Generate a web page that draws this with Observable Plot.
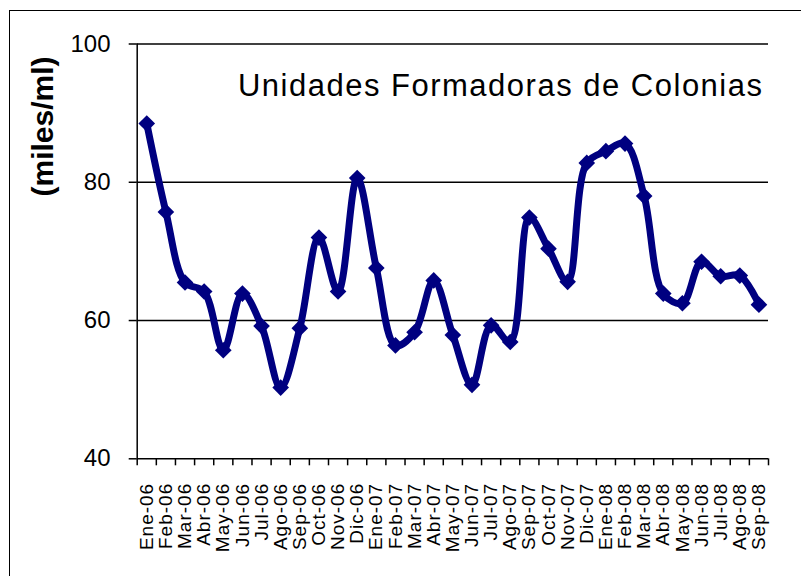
<!DOCTYPE html>
<html>
<head>
<meta charset="utf-8">
<script src="https://cdn.jsdelivr.net/npm/d3@7"></script>
<script src="https://cdn.jsdelivr.net/npm/@observablehq/plot@0.6"></script>
<style>
  html, body { margin: 0; padding: 0; background: #fff; overflow: hidden; width: 801px; height: 576px; }
  #border { position: absolute; left: 9px; top: 10px; width: 820px; height: 620px; border: 1.5px solid #000; box-sizing: border-box; }
  #chart { position: absolute; left: 0; top: 0; }
  svg g[aria-label="x-axis tick label"] text { letter-spacing: 1px; }
</style>
</head>
<body>
<div id="border"></div>
<div id="chart"></div>
<script>
const months = ["Ene-06","Feb-06","Mar-06","Abr-06","May-06","Jun-06","Jul-06","Ago-06","Sep-06","Oct-06","Nov-06","Dic-06",
                "Ene-07","Feb-07","Mar-07","Abr-07","May-07","Jun-07","Jul-07","Ago-07","Sep-07","Oct-07","Nov-07","Dic-07",
                "Ene-08","Feb-08","Mar-08","Abr-08","May-08","Jun-08","Jul-08","Ago-08","Sep-08"];
const values = [88.5, 75.7, 65.5, 64.2, 55.7, 63.9, 59.2, 50.3, 58.9, 72.0, 64.2, 80.6,
                67.6, 56.4, 58.3, 65.8, 57.9, 50.7, 59.3, 56.9, 74.9, 70.4, 65.6, 82.8,
                84.5, 85.6, 78.0, 63.9, 62.5, 68.5, 66.4, 66.5, 62.3];
const yTicks = [40, 60, 80, 100];
const gridValues = [60, 80, 100];
const titleText = "Unidades Formadoras de Colonias";
const yLabelText = "(miles/ml)";

const data = months.map((m, i) => ({i, m, v: values[i]}));
const idx = d3.range(months.length);
const boundaries = d3.range(months.length + 1).map(k => k - 0.5);

const chart = Plot.plot({
  width: 801,
  height: 576,
  marginLeft: 136.7,
  marginRight: 33,
  marginTop: 43.5,
  marginBottom: 117.7,
  style: {fontFamily: "'Liberation Sans', Arial, sans-serif", background: "transparent", color: "#000", overflow: "visible"},
  x: {type: "linear", domain: [-0.5, months.length - 0.5]},
  y: {domain: [40, 100]},
  marks: [
    Plot.ruleY(gridValues, {stroke: "#000", strokeWidth: 1.5}),
    Plot.ruleY([40], {stroke: "#000", strokeWidth: 1.5}),
    Plot.ruleX([-0.5], {stroke: "#000", strokeWidth: 1.5}),
    Plot.axisY({ticks: yTicks, tickSize: 8, tickPadding: 18.7, fontSize: 24, label: null, strokeWidth: 1.5}),
    Plot.axisX({ticks: boundaries, tickSize: 7, tickFormat: () => "", label: null, strokeWidth: 1.5}),
    Plot.axisX({ticks: idx, tickSize: 0, tickPadding: 24, tickRotate: -90, tickFormat: i => months[i], fontSize: 19, label: null}),
    Plot.line(data, {x: "i", y: "v", curve: "catmull-rom", stroke: "#000080", strokeWidth: 7, strokeLinejoin: "round"}),
    Plot.dot(data, {x: "i", y: "v", symbol: "diamond2", r: 7.5, fill: "#000080", stroke: "none"}),
    Plot.text([titleText], {frameAnchor: "top-right", dx: -5, dy: 51.5, lineAnchor: "bottom", textAnchor: "end", fontSize: 31, fill: "#000"}),
    Plot.text([yLabelText], {frameAnchor: "top-left", rotate: -90, dx: -84.7, dy: 82.5, lineAnchor: "bottom", textAnchor: "middle", fontSize: 30, fontWeight: "bold", fill: "#000"})
  ]
});
document.getElementById("chart").appendChild(chart);
d3.select(chart).selectAll("text").filter(function() { return this.textContent === titleText; })
  .style("letter-spacing", "1.5px");
</script>
</body>
</html>
